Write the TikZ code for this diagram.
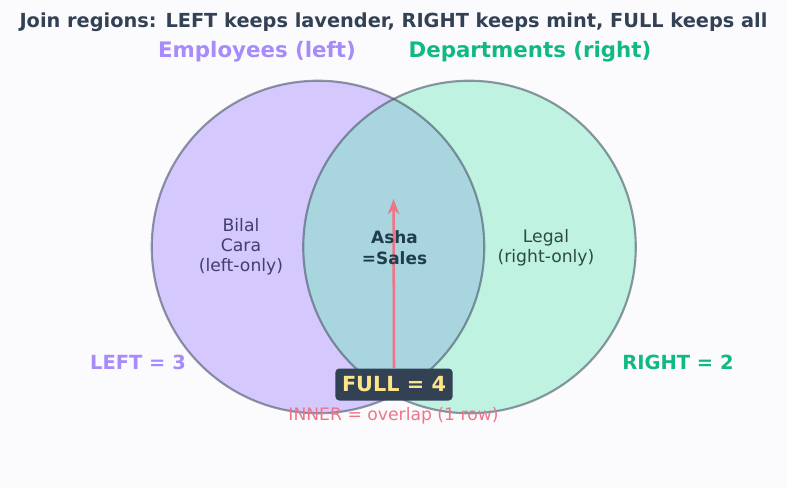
\documentclass[tikz,border=0pt]{standalone}
\usepackage{fontspec}
\setmainfont{DejaVu Sans}
\usetikzlibrary{arrows.meta}
\definecolor{paper}{HTML}{FBFBFE}
\definecolor{lav}{HTML}{A78BFA}
\definecolor{mint}{HTML}{6EE7B7}
\definecolor{mintdark}{HTML}{10B981}
\definecolor{ink}{HTML}{334155}
\definecolor{rim}{HTML}{475569}
\definecolor{rose}{HTML}{F07487}
\definecolor{gold}{HTML}{FDE68A}
\definecolor{lavink}{HTML}{423F6E}
\definecolor{mintink}{HTML}{2C4B45}
\definecolor{bothink}{HTML}{1F3D4C}

\begin{document}
\begin{tikzpicture}[x=0.75pt,y=-0.75pt,>=Stealth,
  setrim/.style={line width=1.6pt,draw=rim,draw opacity=0.6},
  region/.style={align=center,font=\fontsize{12.9}{15}\selectfont},
  count/.style={font=\fontsize{14.6}{17}\selectfont\bfseries},
  head/.style={font=\fontsize{16}{18}\selectfont\bfseries}]
  % canvas, 787 x 488 px
  \path[fill=paper,use as bounding box] (0,0) rectangle (787,488);
  % the two tables
  \fill[lav,opacity=0.45] (318,247) circle[radius=124.7pt];
  \fill[mint,opacity=0.42] (469.5,247) circle[radius=124.7pt];
  \draw[setrim] (318,247) circle[radius=124.7pt];
  \draw[setrim] (469.5,247) circle[radius=124.7pt];
  % headings
  \node[font=\fontsize{14.5}{17}\selectfont\bfseries,text=ink] (title) at (393.5,22.5)
    {Join regions: LEFT keeps lavender, RIGHT keeps mint, FULL keeps all};
  \node[head,text=lav] (lefthead) at (257,52) {Employees (left)};
  \node[head,text=mintdark] (righthead) at (530,52) {Departments (right)};
  % inner join arrow
  \coordinate (tip) at (393.5,199);
  \node[fill=ink,rounded corners=3pt,text=gold,font=\fontsize{15.6}{18}\selectfont\bfseries,
    minimum width=88pt,minimum height=24pt,inner sep=0pt] (fullbox) at (394,384.5) {FULL = 4};
  \draw[->,rose,line width=1.9pt] (fullbox.north) -- (tip);
  % region contents
  \node[region,text=lavink] (leftonly) at (241,247) {Bilal\\Cara\\(left-only)};
  \node[region,text=bothink,font=\fontsize{12.7}{15.5}\selectfont\bfseries] (both) at (394.5,247.5) {Asha\\=Sales};
  \node[region,text=mintink] (rightonly) at (546,247.5) {Legal\\(right-only)};
  \node[region,text=rose] (inner) at (393.5,416) {INNER = overlap (1 row)};
  % counts
  \node[count,text=lav] (leftcount) at (138,362.5) {LEFT = 3};
  \node[count,text=mintdark] (rightcount) at (678,362.5) {RIGHT = 2};
\end{tikzpicture}
\end{document}
